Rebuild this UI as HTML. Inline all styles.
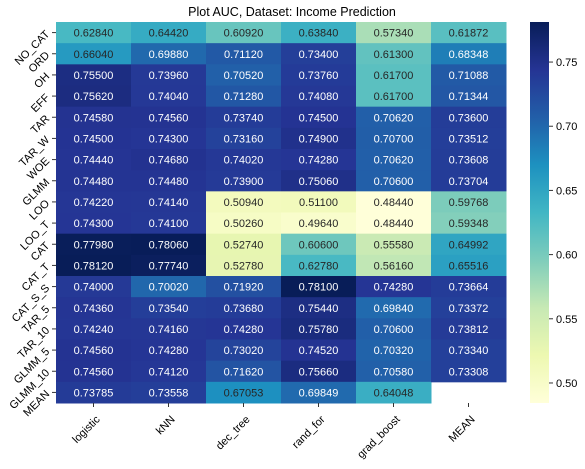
<!DOCTYPE html>
<html><head><meta charset="utf-8"><style>
body{margin:0;background:#fff;width:585px;height:464px;overflow:hidden;font-family:"Liberation Sans","DejaVu Sans",sans-serif}
</style></head><body>
<svg id="chart" width="585" height="464" xmlns="http://www.w3.org/2000/svg" font-family="Liberation Sans, DejaVu Sans, sans-serif"></svg>
<script>
const rowLabels=["NO_CAT","ORD","OH","EFF","TAR","TAR_W","WOE","GLMM","LOO","LOO_T","CAT","CAT_T","CAT_S_S","TAR_5","TAR_10","GLMM_5","GLMM_10","MEAN"];
const colLabels=["logistic","kNN","dec_tree","rand_for","grad_boost","MEAN"];
const logistic=[0.62840,0.66040,0.75500,0.75620,0.74580,0.74500,0.74440,0.74480,0.74220,0.74300,0.77980,0.78120,0.74000,0.74360,0.74240,0.74560,0.74560,0.73785];
const knn=[0.64420,0.69880,0.73960,0.74040,0.74560,0.74300,0.74680,0.74480,0.74140,0.74100,0.78060,0.77740,0.70020,0.73540,0.74160,0.74280,0.74120,0.73558];
const decTree=[0.60920,0.71120,0.70520,0.71280,0.73740,0.73160,0.74020,0.73900,0.50940,0.50260,0.52740,0.52780,0.71920,0.73680,0.74280,0.73020,0.71620,0.67053];
const randFor=[0.63840,0.73400,0.73760,0.74080,0.74500,0.74900,0.74280,0.75060,0.51100,0.49640,0.60600,0.62780,0.78100,0.75440,0.75780,0.74520,0.75660,0.69849];
const gradBoost=[0.57340,0.61300,0.61700,0.61700,0.70620,0.70700,0.70620,0.70600,0.48440,0.48440,0.55580,0.56160,0.74280,0.69840,0.70600,0.70320,0.70580,0.64048];
const meanCol=[0.61872,0.68348,0.71088,0.71344,0.73600,0.73512,0.73608,0.73704,0.59768,0.59348,0.64992,0.65516,0.73664,0.73372,0.73812,0.73340,0.73308,null];
const cbTicks=[0.50,0.55,0.60,0.65,0.70,0.75];
const series=[logistic,knn,decTree,randFor,gradBoost,meanCol];
const vmin=0.4844,vmax=0.7812;
const X0=56,Y0=22,CW=75,RH=381/18;
const svg=document.getElementById('chart');
const NS='http://www.w3.org/2000/svg';
function mk(t,a,p){const e=document.createElementNS(NS,t);for(const k in a)e.setAttribute(k,a[k]);(p||svg).appendChild(e);return e;}
const stops=[[255,255,217],[237,248,177],[199,233,180],[127,205,187],[65,182,196],[29,145,192],[34,94,168],[37,52,148],[8,29,88]];
function cmap(v){let t=Math.max(0,Math.min(1,(v-vmin)/(vmax-vmin)))*(stops.length-1);let i=Math.min(Math.floor(t),stops.length-2),f=t-i;const c=stops[i].map((s,k)=>Math.round(s+(stops[i+1][k]-s)*f));return c;}
function xPos(ci){return X0+ci*CW;}
function yPos(ri){return Y0+ri*RH;}
function yCb(v){return Y0+(vmax-v)/(vmax-vmin)*381;}
const t=mk('text',{x:292,y:16,'font-size':12.5,'text-anchor':'middle',fill:'#000'});t.textContent='Plot AUC, Dataset: Income Prediction';


for(let c=0;c<series.length;c++){for(let r=0;r<rowLabels.length;r++){const v=series[c][r];if(v==null)continue;const col=cmap(v);
const rect=mk('rect',{x:xPos(c),y:yPos(r),width:CW+0.5,height:RH+0.5,fill:`rgb(${col})`});


const lum=(0.299*col[0]+0.587*col[1]+0.114*col[2])/255;
const tx=mk('text',{x:xPos(c)+CW/2,y:yPos(r)+RH/2+4,'font-size':11,'text-anchor':'middle',fill:lum>0.45?'#262626':'#fff'});tx.textContent=v.toFixed(5);

}}
rowLabels.forEach((l,r)=>{const y=yPos(r)+RH/2;mk('line',{x1:X0-4,x2:X0,y1:y,y2:y,stroke:'#333'});
const tx=mk('text',{x:X0-8,y:y+3,'font-size':11,'text-anchor':'end',fill:'#000',transform:`rotate(-45 ${X0-8} ${y})`});tx.textContent=l;

});
colLabels.forEach((l,c)=>{const x=xPos(c)+CW/2,y=Y0+381;mk('line',{x1:x,x2:x,y1:y,y2:y+4,stroke:'#333'});
const tx=mk('text',{x:x+7,y:y+17,'font-size':11,'text-anchor':'end',fill:'#000',transform:`rotate(-45 ${x+7} ${y+17})`});tx.textContent=l;

});
const defs=mk('defs',{});const g=mk('linearGradient',{id:'cb',x1:0,y1:1,x2:0,y2:0},defs);
stops.forEach((s,i)=>mk('stop',{offset:i/(stops.length-1),'stop-color':`rgb(${s})`},g));
const cb=mk('rect',{x:530,y:Y0,width:19,height:381,fill:'url(#cb)'});


cbTicks.forEach(v=>{const y=yCb(v);mk('line',{x1:549,x2:553,y1:y,y2:y,stroke:'#333'});
const tx=mk('text',{x:556,y:y+4,'font-size':11,fill:'#000'});tx.textContent=v.toFixed(2);

});
</script>
</body></html>
